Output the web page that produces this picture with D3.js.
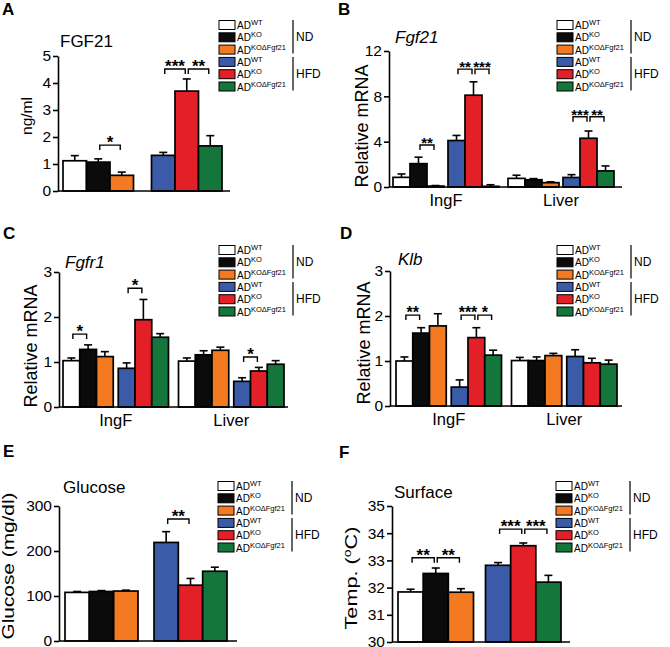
<!DOCTYPE html>
<html><head><meta charset="utf-8">
<script src="https://cdn.jsdelivr.net/npm/d3@7"></script>
<style>
body{margin:0;background:#fff}
svg{font-family:"Liberation Sans",Arial,Helvetica,sans-serif}
</style>
</head><body>
<svg id="fig" width="670" height="647"></svg>
<script>
// ---------- data ----------
const seriesColors = ["#ffffff","#0b0b0b","#f47a22","#3b5ba8","#e31f27","#15763b"];
const legendSup = ["WT","KO","KO\u0394Fgf21","WT","KO","KO\u0394Fgf21"];
const dietGroups = ["ND","HFD"];
const tissueGroups = ["IngF","Liver"];

// A: serum FGF21 (ng/ml), order: ND WT, KO, KOΔFgf21, HFD WT, KO, KOΔFgf21
const serumFgf21Mean = [1.12,1.07,0.58,1.32,3.70,1.67];
const serumFgf21Sem  = [0.19,0.12,0.12,0.11,0.45,0.38];
const serumTicks = [0,1,2,3,4,5];

// B: Fgf21 relative mRNA
const fgf21IngFMean  = [0.85,2.06,0.08,4.10,8.10,0.06];
const fgf21IngFSem   = [0.30,0.57,0.05,0.45,1.18,0.14];
const fgf21LiverMean = [0.76,0.64,0.38,0.84,4.30,1.42];
const fgf21LiverSem  = [0.28,0.10,0.08,0.25,0.64,0.44];
const fgf21Ticks = [0,4,8,12];

// C: Fgfr1 relative mRNA
const fgfr1IngFMean  = [1.03,1.28,1.12,0.86,1.94,1.55];
const fgfr1IngFSem   = [0.06,0.10,0.11,0.12,0.45,0.08];
const fgfr1LiverMean = [1.02,1.16,1.26,0.57,0.80,0.95];
const fgfr1LiverSem  = [0.07,0.09,0.07,0.08,0.08,0.08];

// D: Klb relative mRNA
const klbIngFMean  = [1.00,1.62,1.78,0.42,1.52,1.13];
const klbIngFSem   = [0.09,0.12,0.27,0.16,0.22,0.11];
const klbLiverMean = [1.01,1.01,1.12,1.10,0.96,0.93];
const klbLiverSem  = [0.07,0.08,0.05,0.15,0.10,0.09];
const mrnaTicks = [0,1,2,3];

// E: glucose (mg/dl)
const glucoseMean = [108,110,111,219,124,155];
const glucoseSem  = [2,2,2,24,15,9];
const glucoseTicks = [0,100,200,300];

// F: surface temperature (°C)
const tempMean = [31.84,32.52,31.83,32.82,33.54,32.20];
const tempSem  = [0.10,0.20,0.13,0.10,0.10,0.25];
const tempTicks = [30,31,32,33,34,35];

// significance: [group, barA, barB, label, level (data units)]
const sigA = [[0,1,2,"*",1.7],[1,0,1,"***",4.52],[1,1,2,"**",4.52]];
const sigB = [[0,1,2,"**",3.7],[0,3,4,"**",10.4],[0,4,5,"***",10.4],[1,3,4,"***",6.2],[1,4,5,"**",6.2]];
const sigC = [[0,0,1,"*",1.62],[0,3,4,"*",2.64],[1,3,4,"*",1.11]];
const sigD = [[0,0,1,"**",2.02],[0,3,4,"***",2.02],[0,4,5,"*",2.02]];
const sigE = [[1,0,1,"**",271]];
const sigF = [[0,0,1,"**",33.1],[0,1,2,"**",33.1],[1,0,1,"***",34.15],[1,1,2,"***",34.15]];

// ---------- helpers ----------
const svg = d3.select("#fig");

function dietData(mean, sem){
  return [
    {name:dietGroups[0], bars:[0,1,2].map(i=>({s:i,m:mean[i],e:sem[i]}))},
    {name:dietGroups[1], bars:[3,4,5].map(i=>({s:i,m:mean[i],e:sem[i]}))}
  ];
}
function tissueData(m1,e1,m2,e2){
  return [
    {name:tissueGroups[0], bars:m1.map((v,i)=>({s:i,m:v,e:e1[i]}))},
    {name:tissueGroups[1], bars:m2.map((v,i)=>({s:i,m:v,e:e2[i]}))}
  ];
}

function drawPanel(c){
  const g = svg.append("g");
  const y = d3.scaleLinear().domain([c.yTicks[0], c.yTicks[c.yTicks.length-1]]).range(c.yRange);
  const W = c.xRange[1]-c.xRange[0];
  const bw = (W - c.groupGap)/2;
  const outer = d3.scaleBand().domain(c.data.map(d=>d.name)).range(c.xRange)
      .paddingInner(c.groupGap/(bw+c.groupGap)).paddingOuter(0);
  const n = c.data[0].bars.length;
  const sub = n===6 ? c.subGap : 0;
  const inner = d3.scaleBand().domain(d3.range(n)).range([0, outer.bandwidth()-sub]).padding(0);
  const bx = (gname,i)=> outer(gname) + inner(i) + (n===6 && i>=3 ? sub : 0);
  const bcx = (gname,i)=> bx(gname,i) + inner.bandwidth()/2;
  const y0 = y(c.yTicks[0]);

  // panel letter
  g.append("text").attr("x",c.letter[1]).attr("y",c.letter[2]).text(c.letter[0])
    .attr("font-size",17).attr("font-weight","bold");
  // title
  g.append("text").attr("x",c.title[1]).attr("y",c.title[2]).text(c.title[0])
    .attr("font-size",17).attr("font-style",c.italic?"italic":"normal");

  // bars
  c.data.forEach(gr=>{
    gr.bars.forEach((b,i)=>{
      const x = bx(gr.name,i);
      const cx = x + inner.bandwidth()/2;
      g.append("line").attr("x1",cx).attr("x2",cx).attr("y1",y(b.m)).attr("y2",y(b.m+b.e))
        .attr("stroke","#000").attr("stroke-width",1.6);
      g.append("line").attr("x1",cx-4).attr("x2",cx+4).attr("y1",y(b.m+b.e)).attr("y2",y(b.m+b.e))
        .attr("stroke","#000").attr("stroke-width",1.6);
      g.append("rect").attr("x",x).attr("y",y(b.m)).attr("width",inner.bandwidth())
        .attr("height",Math.max(0,y0-y(b.m))).attr("fill",seriesColors[b.s])
        .attr("stroke","#000").attr("stroke-width",1.7);
    });
  });

  // y axis
  const ax = g.append("g").attr("transform",`translate(${c.axisX},0)`)
    .call(d3.axisLeft(y).tickValues(c.yTicks).tickSize(5).tickSizeOuter(0).tickPadding(2).tickFormat(d3.format("d")));
  ax.select(".domain").attr("stroke","#000").attr("stroke-width",1.6);
  ax.selectAll(".tick line").attr("stroke","#000").attr("stroke-width",1.6);
  ax.selectAll(".tick text").attr("font-size",15.5).attr("fill","#000")
    .attr("font-family","Liberation Sans, Arial, sans-serif");
  g.append("line").attr("x1",c.axisX).attr("x2",c.axisEnd).attr("y1",y0).attr("y2",y0)
    .attr("stroke","#000").attr("stroke-width",1.6);

  // category labels
  if(c.catLabels){
    c.data.forEach(gr=>{
      g.append("text").attr("x",outer(gr.name)+outer.bandwidth()/2).attr("y",y0+19)
        .attr("text-anchor","middle").attr("font-size",16.5).text(gr.name);
    });
  }

  // y label
  const yl = g.append("text").attr("font-size",c.ylab.size).attr("text-anchor","middle");
  c.ylab.parts.forEach(p=>{
    const t = yl.append("tspan").text(p[0]);
    if(p[1]==="sup") t.attr("font-size",c.ylab.size*0.65).attr("dy",-c.ylab.size*0.38);
    if(p[1]==="after") t.attr("dy",c.ylab.size*0.38);
  });
  const natural = yl.node().getComputedTextLength();
  const sx = c.ylab.len / natural;
  yl.attr("transform",`translate(${c.ylab.x},${c.ylab.cy}) rotate(-90) scale(${sx},1)`);

  // significance brackets
  c.sig.forEach(s=>{
    const gname = c.data[s[0]].name;
    const x1 = bcx(gname,s[1])+1.5, x2 = bcx(gname,s[2])-1.5, yb = y(s[4]);
    g.append("path").attr("d",`M${x1},${yb+5}V${yb}H${x2}V${yb+5}`)
      .attr("fill","none").attr("stroke","#000").attr("stroke-width",1.4);
    g.append("text").attr("x",(x1+x2)/2).attr("y",yb+3).attr("text-anchor","middle")
      .attr("font-size",c.starSize).attr("font-weight","bold").text(s[3]);
  });

  // legend
  const lx = c.legend[0], ly = c.legend[1], step = 12.3;
  seriesColors.forEach((col,i)=>{
    const yy = ly + i*step;
    g.append("rect").attr("x",lx).attr("y",yy-4.5).attr("width",16).attr("height",9)
      .attr("fill",col).attr("stroke","#000").attr("stroke-width",1);
    const t = g.append("text").attr("x",lx+18).attr("y",yy+4).attr("font-size",10);
    t.append("tspan").text("AD");
    t.append("tspan").text(legendSup[i]).attr("font-size",7.5).attr("dy",-4);
  });
  [[0,2,dietGroups[0]],[3,5,dietGroups[1]]].forEach(r=>{
    const ya = ly + r[0]*step - 5, yb2 = ly + r[1]*step + 4;
    g.append("line").attr("x1",lx+74).attr("x2",lx+74).attr("y1",ya).attr("y2",yb2)
      .attr("stroke","#000").attr("stroke-width",1.2);
    g.append("text").attr("x",lx+77).attr("y",(ya+yb2)/2+4.5).attr("font-size",12).text(r[2]);
  });
}

// ---------- panels ----------
drawPanel({letter:["A",2,15], title:["FGF21",60,47], italic:false,
  yTicks:serumTicks, yRange:[191,56], axisX:58, axisEnd:230,
  xRange:[63,222], groupGap:18, subGap:0, data:dietData(serumFgf21Mean,serumFgf21Sem),
  catLabels:false, sig:sigA, starSize:17, legend:[219,25],
  ylab:{parts:[["ng/ml"]], size:15, len:38, x:32, cy:116}});

drawPanel({letter:["B",338,15], title:["Fgf21",395,43], italic:true,
  yTicks:fgf21Ticks, yRange:[187,51], axisX:389, axisEnd:622,
  xRange:[393,614], groupGap:9, subGap:4,
  data:tissueData(fgf21IngFMean,fgf21IngFSem,fgf21LiverMean,fgf21LiverSem),
  catLabels:true, sig:sigB, starSize:15, legend:[557,25],
  ylab:{parts:[["Relative mRNA"]], size:18, len:123, x:368, cy:126}});

drawPanel({letter:["C",3,239], title:["Fgfr1",65,268], italic:true,
  yTicks:mrnaTicks, yRange:[407,272], axisX:59, axisEnd:288,
  xRange:[63,284], groupGap:10, subGap:5,
  data:tissueData(fgfr1IngFMean,fgfr1IngFSem,fgfr1LiverMean,fgfr1LiverSem),
  catLabels:true, sig:sigC, starSize:17, legend:[219,250],
  ylab:{parts:[["Relative mRNA"]], size:18, len:123, x:37, cy:346}});

drawPanel({letter:["D",340,239], title:["Klb",398,265], italic:true,
  yTicks:mrnaTicks, yRange:[406,271], axisX:390, axisEnd:622,
  xRange:[396,617], groupGap:10, subGap:5,
  data:tissueData(klbIngFMean,klbIngFSem,klbLiverMean,klbLiverSem),
  catLabels:true, sig:sigD, starSize:16, legend:[557,250],
  ylab:{parts:[["Relative mRNA"]], size:18, len:123, x:370, cy:343}});

drawPanel({letter:["E",3,457], title:["Glucose",63,493], italic:false,
  yTicks:glucoseTicks, yRange:[641,506], axisX:59, axisEnd:237,
  xRange:[65,227], groupGap:16, subGap:0, data:dietData(glucoseMean,glucoseSem),
  catLabels:false, sig:sigE, starSize:17, legend:[218,486],
  ylab:{parts:[["Glucose (mg/dl)"]], size:16, len:147, x:13.5, cy:566}});

drawPanel({letter:["F",339,458], title:["Surface",394,498], italic:false,
  yTicks:tempTicks, yRange:[642,506], axisX:392, axisEnd:570,
  xRange:[398,561], groupGap:12, subGap:0, data:dietData(tempMean,tempSem),
  catLabels:false, sig:sigF, starSize:17, legend:[556,486],
  ylab:{parts:[["Temp. ("],["o","sup"],["C)","after"]], size:16, len:103, x:357, cy:578}});
</script>
</body></html>
